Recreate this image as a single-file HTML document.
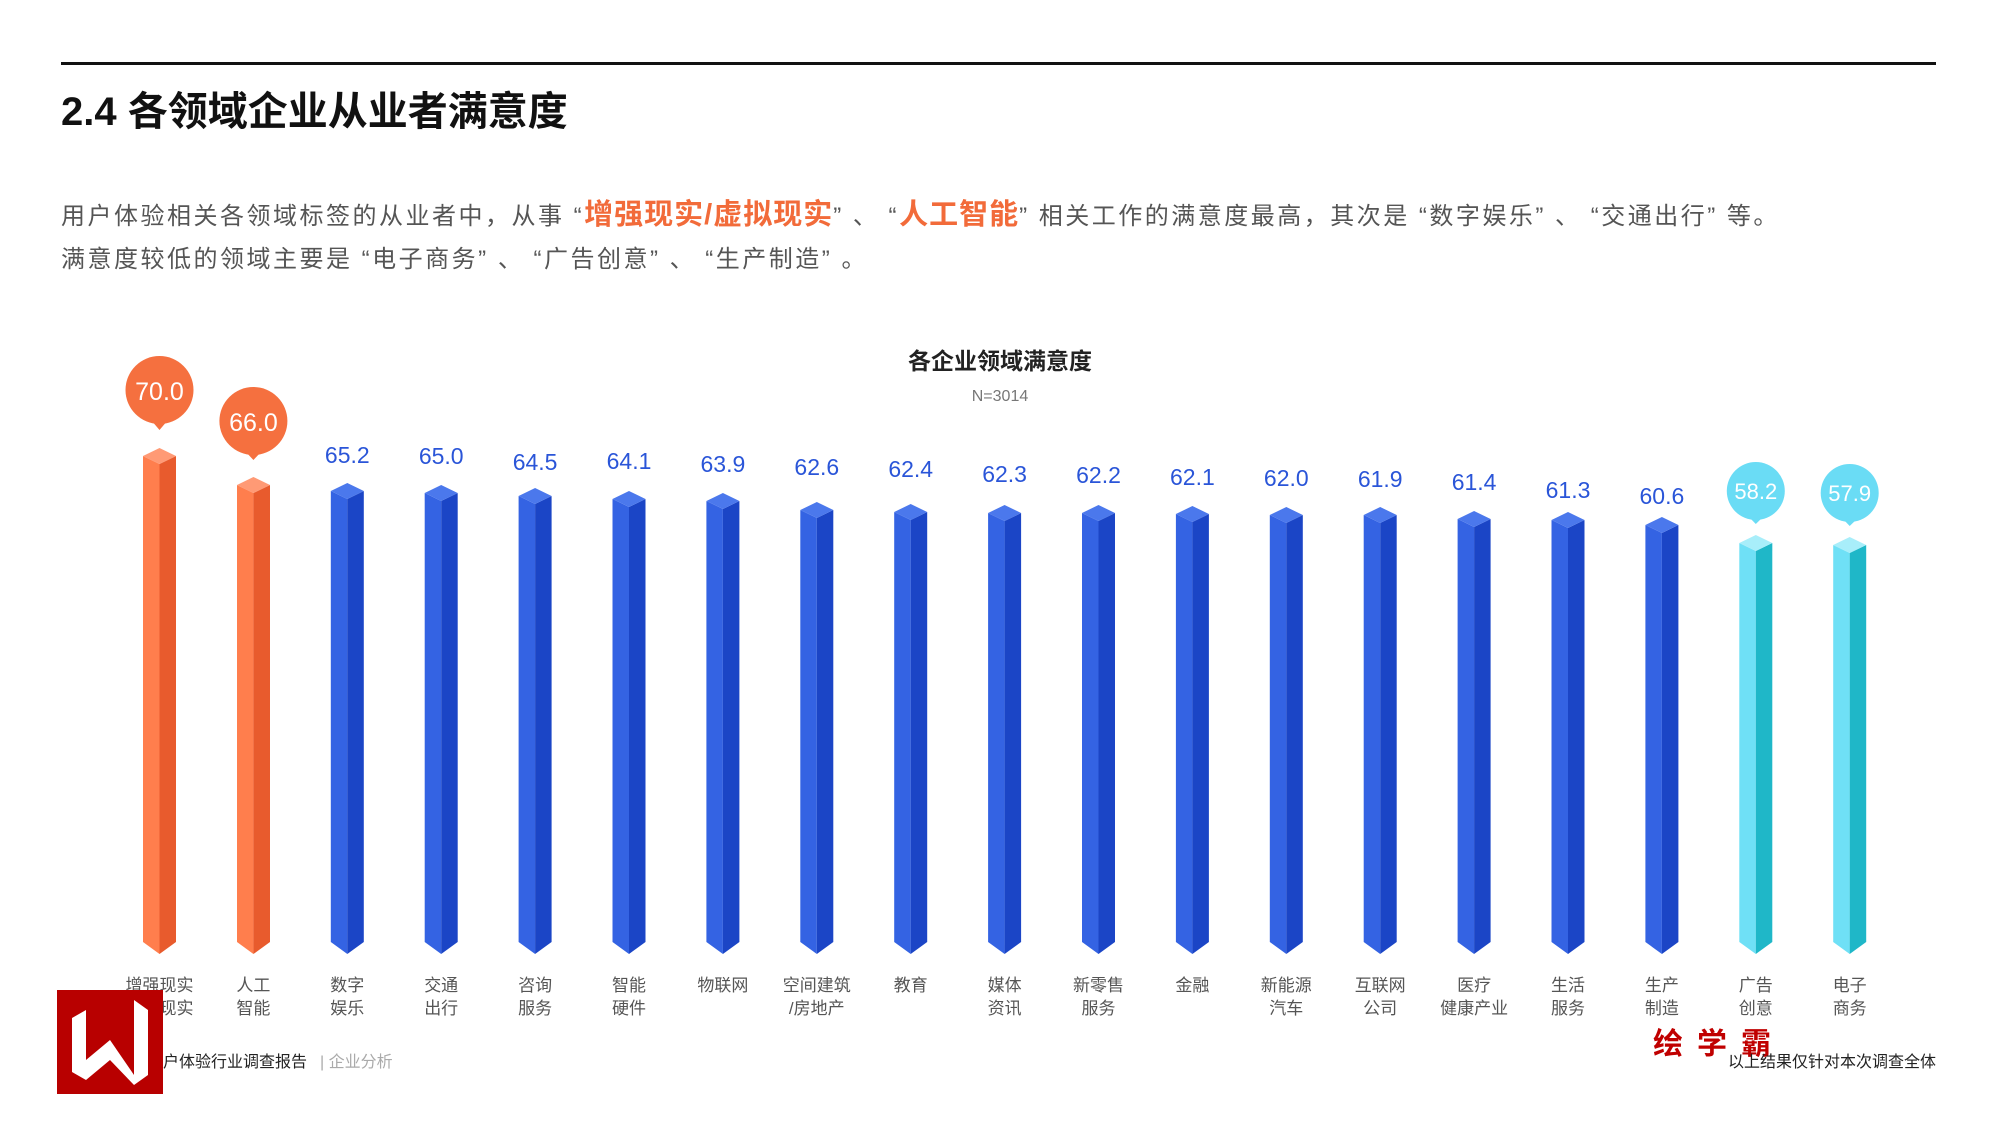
<!DOCTYPE html>
<html><head><meta charset="utf-8"><style>
html,body{margin:0;padding:0;background:#fff;}
body{width:2000px;height:1135px;position:relative;overflow:hidden;font-family:"Liberation Sans","Noto Sans CJK SC",sans-serif;}
.a{position:absolute;white-space:nowrap;}
</style></head><body>
<div class="a" style="left:61px;top:62px;width:1875px;height:3px;background:#111;"></div>
<div class="a" style="left:61px;top:79px;font-size:40px;font-weight:bold;color:#111;">2.4 各领域企业从业者满意度</div>
<div class="a" style="left:61px;top:197px;font-size:24px;color:#555;line-height:36px;letter-spacing:2.5px;">用户体验相关各领域标签的从业者中，从事 “<b style="color:#f26b3a;font-size:29px;letter-spacing:1px;">增强现实/虚拟现实</b>” 、 “<b style="color:#f26b3a;font-size:29px;letter-spacing:1px;">人工智能</b>” 相关工作的满意度最高，其次是 “数字娱乐” 、 “交通出行” 等。</div>
<div class="a" style="left:61px;top:242px;font-size:24px;color:#555;line-height:36px;letter-spacing:2.5px;">满意度较低的领域主要是 “电子商务” 、 “广告创意” 、 “生产制造” 。</div>
<svg class="a" style="left:0;top:0" width="2000" height="1135" font-family="Liberation Sans, Noto Sans CJK SC, sans-serif">
<text x="1000" y="369" font-size="23" font-weight="bold" text-anchor="middle" fill="#222">各企业领域满意度</text>
<text x="1000" y="401" font-size="16" text-anchor="middle" fill="#777">N=3014</text>
<g>
<polygon points="143,456 159.5,464 159.5,954 143,942" fill="#ff7e4d"/><polygon points="159.5,464 176,456 176,942 159.5,954" fill="#e85b2d"/><polygon points="143,456 159.5,448 176,456 159.5,464" fill="#ff9a75"/>
<polygon points="237,485 253.4,493 253.4,954 237,942" fill="#ff7e4d"/><polygon points="253.4,493 270,485 270,942 253.4,954" fill="#e85b2d"/><polygon points="237,485 253.4,477 270,485 253.4,493" fill="#ff9a75"/>
</g>
<g>
<polygon points="330.8,491 347.3,499 347.3,954 330.8,942" fill="#3463e3"/><polygon points="347.3,499 363.8,491 363.8,942 347.3,954" fill="#1b45c6"/><polygon points="330.8,491 347.3,483 363.8,491 347.3,499" fill="#4b78ec"/>
<polygon points="424.7,493 441.2,501 441.2,954 424.7,942" fill="#3463e3"/><polygon points="441.2,501 457.7,493 457.7,942 441.2,954" fill="#1b45c6"/><polygon points="424.7,493 441.2,485 457.7,493 441.2,501" fill="#4b78ec"/>
<polygon points="518.6,496 535.1,504 535.1,954 518.6,942" fill="#3463e3"/><polygon points="535.1,504 551.6,496 551.6,942 535.1,954" fill="#1b45c6"/><polygon points="518.6,496 535.1,488 551.6,496 535.1,504" fill="#4b78ec"/>
<polygon points="612.5,499 629,507 629,954 612.5,942" fill="#3463e3"/><polygon points="629,507 645.5,499 645.5,942 629,954" fill="#1b45c6"/><polygon points="612.5,499 629,491 645.5,499 629,507" fill="#4b78ec"/>
<polygon points="706.4,501 722.9,509 722.9,954 706.4,942" fill="#3463e3"/><polygon points="722.9,509 739.4,501 739.4,942 722.9,954" fill="#1b45c6"/><polygon points="706.4,501 722.9,493 739.4,501 722.9,509" fill="#4b78ec"/>
<polygon points="800.3,510 816.8,518 816.8,954 800.3,942" fill="#3463e3"/><polygon points="816.8,518 833.3,510 833.3,942 816.8,954" fill="#1b45c6"/><polygon points="800.3,510 816.8,502 833.3,510 816.8,518" fill="#4b78ec"/>
<polygon points="894.2,512 910.7,520 910.7,954 894.2,942" fill="#3463e3"/><polygon points="910.7,520 927.2,512 927.2,942 910.7,954" fill="#1b45c6"/><polygon points="894.2,512 910.7,504 927.2,512 910.7,520" fill="#4b78ec"/>
<polygon points="988.1,513 1004.6,521 1004.6,954 988.1,942" fill="#3463e3"/><polygon points="1004.6,521 1021.1,513 1021.1,942 1004.6,954" fill="#1b45c6"/><polygon points="988.1,513 1004.6,505 1021.1,513 1004.6,521" fill="#4b78ec"/>
<polygon points="1082,513 1098.5,521 1098.5,954 1082,942" fill="#3463e3"/><polygon points="1098.5,521 1115,513 1115,942 1098.5,954" fill="#1b45c6"/><polygon points="1082,513 1098.5,505 1115,513 1098.5,521" fill="#4b78ec"/>
<polygon points="1175.9,514 1192.4,522 1192.4,954 1175.9,942" fill="#3463e3"/><polygon points="1192.4,522 1208.9,514 1208.9,942 1192.4,954" fill="#1b45c6"/><polygon points="1175.9,514 1192.4,506 1208.9,514 1192.4,522" fill="#4b78ec"/>
<polygon points="1269.8,515 1286.3,523 1286.3,954 1269.8,942" fill="#3463e3"/><polygon points="1286.3,523 1302.8,515 1302.8,942 1286.3,954" fill="#1b45c6"/><polygon points="1269.8,515 1286.3,507 1302.8,515 1286.3,523" fill="#4b78ec"/>
<polygon points="1363.7,515 1380.2,523 1380.2,954 1363.7,942" fill="#3463e3"/><polygon points="1380.2,523 1396.7,515 1396.7,942 1380.2,954" fill="#1b45c6"/><polygon points="1363.7,515 1380.2,507 1396.7,515 1380.2,523" fill="#4b78ec"/>
<polygon points="1457.6,519 1474.1,527 1474.1,954 1457.6,942" fill="#3463e3"/><polygon points="1474.1,527 1490.6,519 1490.6,942 1474.1,954" fill="#1b45c6"/><polygon points="1457.6,519 1474.1,511 1490.6,519 1474.1,527" fill="#4b78ec"/>
<polygon points="1551.5,520 1568,528 1568,954 1551.5,942" fill="#3463e3"/><polygon points="1568,528 1584.5,520 1584.5,942 1568,954" fill="#1b45c6"/><polygon points="1551.5,520 1568,512 1584.5,520 1568,528" fill="#4b78ec"/>
<polygon points="1645.4,525 1661.9,533 1661.9,954 1645.4,942" fill="#3463e3"/><polygon points="1661.9,533 1678.4,525 1678.4,942 1661.9,954" fill="#1b45c6"/><polygon points="1645.4,525 1661.9,517 1678.4,525 1661.9,533" fill="#4b78ec"/>
<polygon points="1739.3,543 1755.8,551 1755.8,954 1739.3,942" fill="#6fe0f6"/><polygon points="1755.8,551 1772.3,543 1772.3,942 1755.8,954" fill="#1fb7c8"/><polygon points="1739.3,543 1755.8,535 1772.3,543 1755.8,551" fill="#a8eefa"/>
<polygon points="1833.2,545 1849.7,553 1849.7,954 1833.2,942" fill="#6fe0f6"/><polygon points="1849.7,553 1866.2,545 1866.2,942 1849.7,954" fill="#1fb7c8"/><polygon points="1833.2,545 1849.7,537 1866.2,545 1849.7,553" fill="#a8eefa"/>
</g>
<circle cx="159.5" cy="390" r="34" fill="#f5703f"/><polygon points="151,420 168,420 159.5,430" fill="#f5703f"/>
<text x="159.5" y="400" font-size="25" fill="#fff" text-anchor="middle">70.0</text>
<circle cx="253.4" cy="421" r="34" fill="#f5703f"/><polygon points="245,451 262,451 253.4,460" fill="#f5703f"/>
<text x="253.4" y="431" font-size="25" fill="#fff" text-anchor="middle">66.0</text>
<circle cx="1755.8" cy="491" r="29" fill="#6adcf5"/><polygon points="1748,516 1764,516 1755.8,524" fill="#6adcf5"/>
<text x="1755.8" y="499" font-size="22" fill="#fff" text-anchor="middle">58.2</text>
<circle cx="1849.7" cy="493" r="29" fill="#6adcf5"/><polygon points="1842,518 1858,518 1849.7,526" fill="#6adcf5"/>
<text x="1849.7" y="501" font-size="22" fill="#fff" text-anchor="middle">57.9</text>
<g font-size="23" fill="#2a55d8" text-anchor="middle">
<text x="347.3" y="463">65.2</text><text x="441.2" y="464">65.0</text><text x="535.1" y="470">64.5</text>
<text x="629" y="469">64.1</text><text x="722.9" y="472">63.9</text><text x="816.8" y="475">62.6</text>
<text x="910.7" y="477">62.4</text><text x="1004.6" y="482">62.3</text><text x="1098.5" y="483">62.2</text>
<text x="1192.4" y="485">62.1</text><text x="1286.3" y="486">62.0</text><text x="1380.2" y="487">61.9</text>
<text x="1474.1" y="490">61.4</text><text x="1568" y="498">61.3</text><text x="1661.9" y="504">60.6</text>
</g>
<g font-size="17" fill="#555" text-anchor="middle">
<text x="159.5" y="991">增强现实</text><text x="159.5" y="1014">虚拟现实</text>
<text x="253.4" y="991">人工</text><text x="253.4" y="1014">智能</text>
<text x="347.3" y="991">数字</text><text x="347.3" y="1014">娱乐</text>
<text x="441.2" y="991">交通</text><text x="441.2" y="1014">出行</text>
<text x="535.1" y="991">咨询</text><text x="535.1" y="1014">服务</text>
<text x="629" y="991">智能</text><text x="629" y="1014">硬件</text>
<text x="722.9" y="991">物联网</text>
<text x="816.8" y="991">空间建筑</text><text x="816.8" y="1014">/房地产</text>
<text x="910.7" y="991">教育</text>
<text x="1004.6" y="991">媒体</text><text x="1004.6" y="1014">资讯</text>
<text x="1098.5" y="991">新零售</text><text x="1098.5" y="1014">服务</text>
<text x="1192.4" y="991">金融</text>
<text x="1286.3" y="991">新能源</text><text x="1286.3" y="1014">汽车</text>
<text x="1380.2" y="991">互联网</text><text x="1380.2" y="1014">公司</text>
<text x="1474.1" y="991">医疗</text><text x="1474.1" y="1014">健康产业</text>
<text x="1568" y="991">生活</text><text x="1568" y="1014">服务</text>
<text x="1661.9" y="991">生产</text><text x="1661.9" y="1014">制造</text>
<text x="1755.8" y="991">广告</text><text x="1755.8" y="1014">创意</text>
<text x="1849.7" y="991">电子</text><text x="1849.7" y="1014">商务</text>
</g>
<rect x="57" y="990" width="106" height="104" fill="#b80000"/>
<polygon points="72,1018 86,1010 86,1080 72,1072" fill="#fff"/>
<polygon points="86,1060 110,1040 110,1060 86,1080" fill="#fff"/>
<polygon points="110,1040 134,1075 134,1085 110,1060" fill="#fff"/>
<polygon points="134,1085 134,1000 148,1010 148,1075" fill="#fff"/>
<text x="163" y="1067" font-size="16" fill="#222">户体验行业调查报告</text>
<text x="320" y="1067" font-size="16" fill="#aaa">| 企业分析</text>
<text x="1653" y="1054" font-size="30" font-weight="bold" fill="#c00000" letter-spacing="14">绘学霸</text>
<text x="1936" y="1067" font-size="16" fill="#222" text-anchor="end">以上结果仅针对本次调查全体</text>
</svg>
</body></html>
